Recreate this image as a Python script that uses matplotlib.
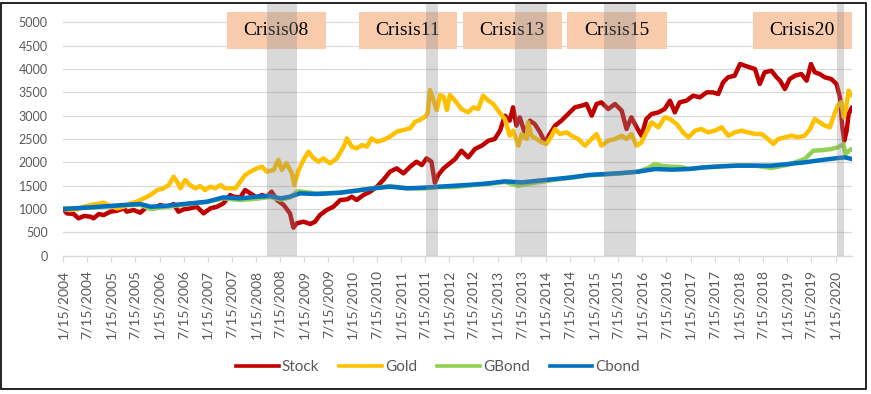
import matplotlib
matplotlib.use('Agg')
import matplotlib.pyplot as plt
from matplotlib.patches import Rectangle
from matplotlib.lines import Line2D

plt.rcParams['font.family'] = ['Lato', 'DejaVu Sans']

# values (x in decimal years)
stock_x = [2004.04, 2004.12, 2004.26, 2004.36, 2004.47, 2004.61, 2004.67, 2004.78, 2004.88, 2005.02,
           2005.16, 2005.30, 2005.36, 2005.50, 2005.64, 2005.78, 2005.92, 2006.05, 2006.19, 2006.33,
           2006.43, 2006.54, 2006.67, 2006.81, 2006.95, 2007.09, 2007.23, 2007.36, 2007.50, 2007.57,
           2007.71, 2007.81, 2007.92, 2008.05, 2008.16, 2008.26, 2008.36, 2008.47, 2008.61, 2008.74,
           2008.81, 2008.88, 2009.02, 2009.16, 2009.26, 2009.36, 2009.50, 2009.64, 2009.78, 2009.92,
           2010.02, 2010.12, 2010.26, 2010.40, 2010.54, 2010.67, 2010.81, 2010.95, 2011.09, 2011.23,
           2011.36, 2011.47, 2011.57, 2011.67, 2011.74, 2011.81, 2011.92, 2012.05, 2012.16, 2012.29,
           2012.43, 2012.57, 2012.71, 2012.85, 2012.98, 2013.09, 2013.19, 2013.29, 2013.36, 2013.43,
           2013.50, 2013.61, 2013.71, 2013.81, 2013.92, 2014.02, 2014.12, 2014.23, 2014.36, 2014.50,
           2014.64, 2014.78, 2014.88, 2014.99, 2015.09, 2015.19, 2015.33, 2015.47, 2015.61, 2015.71,
           2015.81, 2015.92, 2016.02, 2016.12, 2016.23, 2016.37, 2016.50, 2016.61, 2016.71, 2016.81,
           2016.95, 2017.09, 2017.23, 2017.37, 2017.50, 2017.61, 2017.71, 2017.81, 2017.95, 2018.06,
           2018.16, 2018.26, 2018.37, 2018.47, 2018.57, 2018.71, 2018.82, 2018.89, 2018.99, 2019.09,
           2019.20, 2019.33, 2019.44, 2019.53, 2019.61, 2019.71, 2019.82, 2019.95, 2020.06, 2020.13,
           2020.18, 2020.22, 2020.27, 2020.31, 2020.38]
stock_y = [1000, 907, 893, 800, 850, 836, 800, 893, 871, 943,
           964, 1014, 943, 979, 921, 1050, 1014, 1086, 1050, 1107,
           943, 993, 1014, 1050, 907, 1014, 1050, 1121, 1300, 1264,
           1250, 1407, 1336, 1250, 1300, 1264, 1371, 1193, 1086, 907,
           600, 693, 729, 679, 729, 871, 979, 1050, 1193, 1207,
           1264, 1193, 1300, 1371, 1479, 1621, 1800, 1871, 1764, 1907,
           2014, 1943, 2086, 2014, 1564, 1729, 1871, 1979, 2071, 2250,
           2107, 2286, 2357, 2464, 2500, 2679, 3000, 2893, 3179, 2786,
           2964, 2607, 2893, 2821, 2643, 2429, 2607, 2786, 2893, 3036,
           3179, 3214, 3250, 3000, 3250, 3286, 3143, 3250, 3107, 2714,
           2964, 2750, 2571, 2929, 3036, 3071, 3143, 3321, 3071, 3286,
           3321, 3429, 3393, 3500, 3500, 3464, 3714, 3821, 3857, 4107,
           4071, 4036, 4000, 3679, 3929, 3964, 3821, 3750, 3571, 3786,
           3857, 3893, 3750, 4107, 3929, 3893, 3821, 3786, 3679, 3393,
           2750, 2464, 2679, 3036, 3179]

gold_x = [2004.04, 2004.19, 2004.33, 2004.47, 2004.61, 2004.74, 2004.88, 2005.02, 2005.16, 2005.30,
          2005.43, 2005.57, 2005.71, 2005.85, 2005.99, 2006.12, 2006.23, 2006.33, 2006.40, 2006.47,
          2006.57, 2006.67, 2006.78, 2006.88, 2006.98, 2007.09, 2007.19, 2007.30, 2007.40, 2007.50,
          2007.61, 2007.71, 2007.81, 2007.92, 2008.05, 2008.16, 2008.26, 2008.40, 2008.50, 2008.57,
          2008.67, 2008.78, 2008.83, 2008.92, 2009.02, 2009.12, 2009.23, 2009.33, 2009.43, 2009.57,
          2009.71, 2009.85, 2009.92, 2010.02, 2010.12, 2010.23, 2010.33, 2010.43, 2010.54, 2010.67,
          2010.81, 2010.95, 2011.09, 2011.23, 2011.33, 2011.43, 2011.54, 2011.59, 2011.64, 2011.71,
          2011.78, 2011.85, 2011.92, 2011.99, 2012.05, 2012.16, 2012.29, 2012.43, 2012.54, 2012.64,
          2012.74, 2012.85, 2012.95, 2013.05, 2013.19, 2013.29, 2013.36, 2013.47, 2013.54, 2013.64,
          2013.67, 2013.74, 2013.85, 2013.95, 2014.05, 2014.16, 2014.23, 2014.33, 2014.47, 2014.57,
          2014.71, 2014.85, 2014.95, 2015.09, 2015.19, 2015.33, 2015.47, 2015.61, 2015.71, 2015.81,
          2015.92, 2016.02, 2016.12, 2016.23, 2016.37, 2016.50, 2016.61, 2016.75, 2016.88, 2016.99,
          2017.13, 2017.26, 2017.40, 2017.54, 2017.68, 2017.82, 2017.95, 2018.09, 2018.23, 2018.37,
          2018.51, 2018.64, 2018.75, 2018.85, 2018.99, 2019.13, 2019.26, 2019.40, 2019.51, 2019.61,
          2019.71, 2019.82, 2019.92, 2020.02, 2020.09, 2020.16, 2020.21, 2020.27, 2020.31, 2020.38]
gold_y = [1000, 979, 993, 1050, 1086, 1107, 1136, 1064, 1014, 1050,
          1121, 1157, 1229, 1300, 1407, 1443, 1514, 1693, 1586, 1443,
          1621, 1514, 1443, 1493, 1407, 1479, 1443, 1514, 1443, 1443,
          1443, 1586, 1729, 1800, 1871, 1907, 1800, 1836, 2050, 1836,
          1979, 1764, 1514, 1836, 2050, 2229, 2086, 2014, 2086, 1979,
          2086, 2336, 2514, 2336, 2300, 2371, 2336, 2514, 2443, 2479,
          2550, 2657, 2693, 2729, 2871, 2907, 2979, 3050, 3550, 3336,
          3121, 3443, 3407, 3121, 3443, 3321, 3143, 3071, 3179, 3143,
          3429, 3321, 3250, 3107, 2929, 2571, 2679, 2357, 2607, 2500,
          2857, 2571, 2500, 2429, 2393, 2571, 2714, 2607, 2643, 2571,
          2500, 2357, 2464, 2607, 2357, 2464, 2500, 2571, 2500, 2607,
          2357, 2429, 2643, 2857, 2750, 2964, 2929, 2821, 2643, 2536,
          2679, 2714, 2643, 2679, 2750, 2571, 2643, 2679, 2643, 2607,
          2607, 2500, 2393, 2500, 2536, 2571, 2536, 2571, 2714, 2929,
          2857, 2786, 2750, 3050, 3229, 3286, 2964, 3250, 3536, 3429]

gbond_x = [2004.04, 2004.61, 2005.30, 2005.64, 2005.85, 2006.12, 2006.67, 2007.02, 2007.36, 2007.71,
           2008.05, 2008.33, 2008.54, 2008.74, 2008.88, 2008.95, 2009.29, 2009.78, 2010.12, 2010.47,
           2010.81, 2011.16, 2011.50, 2011.81, 2012.16, 2012.50, 2012.85, 2013.19, 2013.47, 2013.80,
           2014.23, 2014.57, 2014.92, 2015.26, 2015.61, 2015.95, 2016.16, 2016.30, 2016.45, 2016.64,
           2016.85, 2016.99, 2017.33, 2017.68, 2018.02, 2018.37, 2018.71, 2019.06, 2019.40, 2019.58,
           2019.75, 2019.95, 2020.09, 2020.20, 2020.25, 2020.32, 2020.38]
gbond_y = [1010, 1030, 1080, 1090, 1000, 1040, 1110, 1150, 1230, 1193,
           1220, 1260, 1200, 1250, 1371, 1380, 1330, 1350, 1400, 1450,
           1490, 1450, 1440, 1470, 1470, 1510, 1540, 1580, 1500, 1560,
           1630, 1670, 1720, 1740, 1765, 1800, 1880, 1964, 1920, 1907,
           1900, 1860, 1895, 1920, 1935, 1930, 1880, 1950, 2071, 2250,
           2260, 2286, 2321, 2393, 2180, 2250, 2286]

cbond_x = [2004.04, 2004.61, 2005.30, 2005.64, 2005.85, 2006.12, 2006.67, 2007.02, 2007.36, 2007.71,
           2008.05, 2008.33, 2008.54, 2008.74, 2008.95, 2009.29, 2009.78, 2010.12, 2010.47, 2010.81,
           2011.16, 2011.50, 2012.16, 2012.50, 2012.85, 2013.19, 2013.54, 2013.88, 2014.23, 2014.57,
           2014.92, 2015.26, 2015.61, 2015.95, 2016.30, 2016.64, 2016.99, 2017.33, 2017.68, 2018.02,
           2018.37, 2018.71, 2019.06, 2019.40, 2019.75, 2020.09, 2020.23, 2020.38]
cbond_y = [1000, 1036, 1086, 1107, 1050, 1064, 1121, 1157, 1250, 1229,
           1264, 1279, 1229, 1264, 1336, 1321, 1350, 1393, 1443, 1479,
           1443, 1457, 1500, 1521, 1550, 1593, 1571, 1607, 1643, 1679,
           1729, 1750, 1771, 1800, 1857, 1843, 1857, 1893, 1914, 1929,
           1929, 1929, 1964, 2000, 2050, 2093, 2107, 2071]

crisis_names = ['Crisis08', 'Crisis11', 'Crisis13', 'Crisis15', 'Crisis20']
crisis_start = [2008.27, 2011.56, 2013.40, 2015.24, 2020.07]
crisis_end = [2008.88, 2011.81, 2014.07, 2015.90, 2020.22]
box_left = [2007.43, 2010.17, 2012.32, 2014.48, 2018.32]
box_right = [2009.48, 2012.20, 2014.37, 2016.54, 2020.38]

tick_labels = [f'{m}/15/{y}' for y in range(2004, 2021) for m in (1, 7)][:-1]
tick_pos = [int(t.split('/')[2]) + (14 if t.startswith('1/') else 195) / 365 for t in tick_labels]

W, H = 871, 394
fig = plt.figure(figsize=(W / 100, H / 100), dpi=100)
ax = fig.add_axes([63 / W, 1 - 255.7 / H, (852 - 63) / W, (255.7 - 4) / H])

txt = '#595959'
series = [('Stock', stock_x, stock_y, '#c00000'),
          ('Gold', gold_x, gold_y, '#ffc000'),
          ('GBond', gbond_x, gbond_y, '#92d050'),
          ('Cbond', cbond_x, cbond_y, '#0070c0')]
handles = []
for name, xs, ys, col in series:
    ax.plot(xs, ys, color=col, lw=3.2, solid_joinstyle='round', solid_capstyle='round', zorder=2)
    handles.append(Line2D([], [], color=col, lw=2.6, label=name))

# crisis labels
for nm, l, r in zip(crisis_names, box_left, box_right):
    ax.add_patch(Rectangle((l, 4429), r - l, 800, facecolor='#f8cbad', edgecolor='none', zorder=3))
    ax.text((l + r) / 2, 4829, nm, ha='center', va='center', fontsize=14,
            family=['Liberation Serif', 'DejaVu Serif'], color='black', zorder=4)

# crisis periods
for s, e in zip(crisis_start, crisis_end):
    ax.axvspan(s, e, color='#8c8c8c', alpha=0.33, lw=0, zorder=5)

ax.set_xlim(2004.04, 2020.38)
ax.set_ylim(0, 5393)
ax.set_yticks(range(0, 5001, 500))
ax.yaxis.grid(True, color='#d9d9d9', lw=0.9)
ax.set_axisbelow(True)
ax.tick_params(axis='y', length=0, pad=11, labelsize=9, labelcolor=txt)
ax.set_xticks(tick_pos)
ax.set_xticklabels(tick_labels, rotation=90)
ax.tick_params(axis='x', length=4, width=0.9, color='#d9d9d9', pad=6, labelsize=10, labelcolor=txt)
for sp in ['left', 'right', 'top']:
    ax.spines[sp].set_visible(False)
ax.spines['bottom'].set_color('#d9d9d9')
ax.spines['bottom'].set_linewidth(0.9)

fig.legend(handles=handles, loc='center', bbox_to_anchor=(0.503, 1 - 367 / H), ncol=4,
           frameon=False, fontsize=11, handlelength=2.8, handletextpad=0.2,
           columnspacing=1.3, labelcolor=txt)

fig.add_artist(Rectangle((1 / W, 1 - 389 / H), 865 / W, 386 / H, transform=fig.transFigure,
                         fill=False, edgecolor='black', lw=1.2))

fig.savefig('out.png', dpi=100)
